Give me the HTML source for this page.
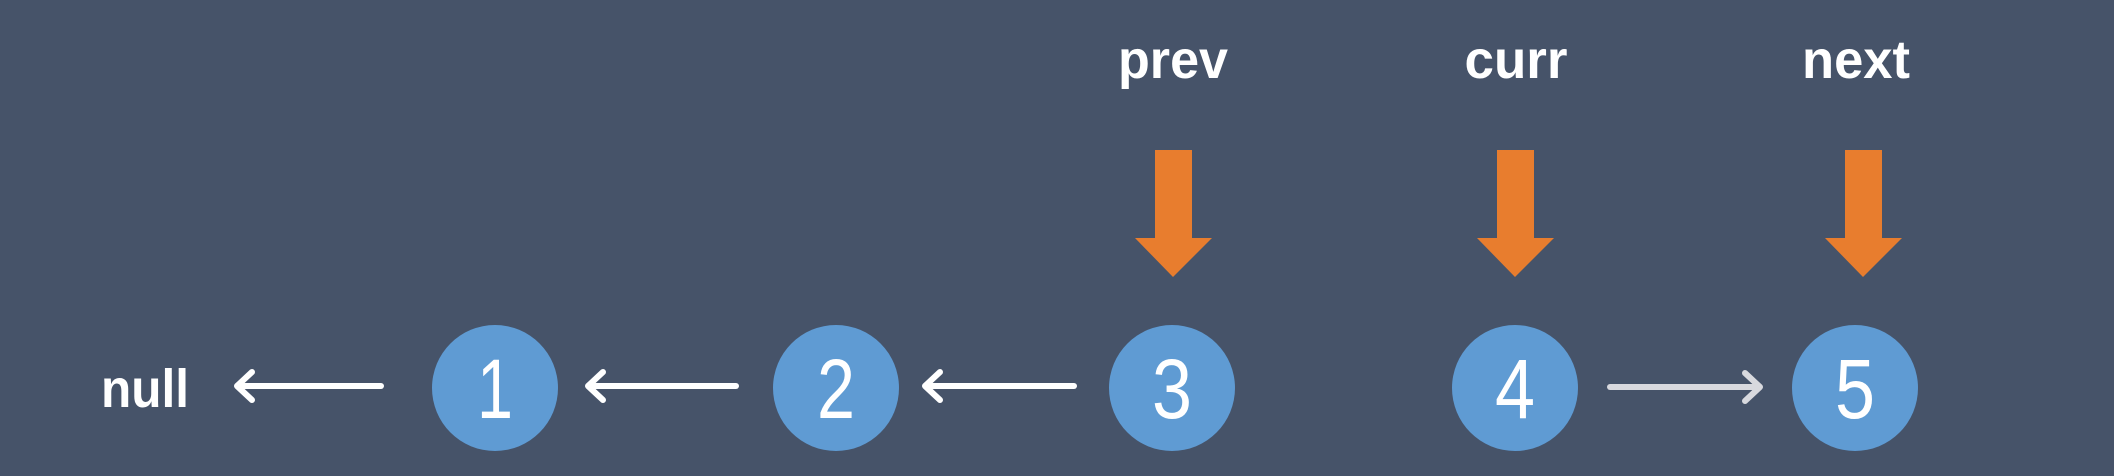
<!DOCTYPE html>
<html><head><meta charset="utf-8"><style>
html,body{margin:0;padding:0;background:#465369;}
svg{display:block}
</style></head><body>
<svg width="2114" height="476" viewBox="0 0 2114 476" xmlns="http://www.w3.org/2000/svg">
<rect width="2114" height="476" fill="#465369"/>
<g font-family="Liberation Sans, sans-serif" font-weight="bold" fill="#ffffff" font-size="54" text-anchor="middle">
<text x="1173" y="78" textLength="110" lengthAdjust="spacingAndGlyphs">prev</text>
<text x="1516" y="78" textLength="103" lengthAdjust="spacingAndGlyphs">curr</text>
<text x="1856" y="78" textLength="108" lengthAdjust="spacingAndGlyphs">next</text>
<text x="145" y="407" textLength="88" lengthAdjust="spacingAndGlyphs">null</text>
</g>
<g fill="#e87d2e">
<rect x="1155" y="150" width="37" height="90"/><polygon points="1135,238 1212,238 1173,277"/>
<rect x="1497" y="150" width="37" height="90"/><polygon points="1477,238 1554,238 1515,277"/>
<rect x="1845" y="150" width="37" height="90"/><polygon points="1825,238 1902,238 1863,277"/>
</g>
<g fill="#5f9bd3">
<circle cx="495" cy="388" r="63"/>
<circle cx="836" cy="388" r="63"/>
<circle cx="1172" cy="388" r="63"/>
<circle cx="1515" cy="388" r="63"/>
<circle cx="1855" cy="388" r="63"/>
</g>
<g font-family="Liberation Sans, sans-serif" fill="#ffffff" font-size="84" text-anchor="middle">
<text x="495" y="418" textLength="36" lengthAdjust="spacingAndGlyphs">1</text>
<text x="836" y="418" textLength="38" lengthAdjust="spacingAndGlyphs">2</text>
<text x="1172" y="418" textLength="40" lengthAdjust="spacingAndGlyphs">3</text>
<text x="1515" y="418" textLength="40" lengthAdjust="spacingAndGlyphs">4</text>
<text x="1855" y="418" textLength="40" lengthAdjust="spacingAndGlyphs">5</text>
</g>
<g stroke="#ffffff" stroke-width="6" fill="none" stroke-linecap="round" stroke-linejoin="round">
<line x1="238" y1="386" x2="381" y2="386"/><polyline points="252,372 237,386 252,400"/>
<line x1="589" y1="386" x2="736" y2="386"/><polyline points="603,372 588,386 603,400"/>
<line x1="926" y1="386" x2="1074" y2="386"/><polyline points="940,372 925,386 940,400"/>
</g>
<g stroke="#d8d9de" stroke-width="6" fill="none" stroke-linecap="round" stroke-linejoin="round">
<line x1="1610" y1="387" x2="1758" y2="387"/><polyline points="1745,373 1760,387 1745,401"/>
</g>
</svg>
</body></html>
